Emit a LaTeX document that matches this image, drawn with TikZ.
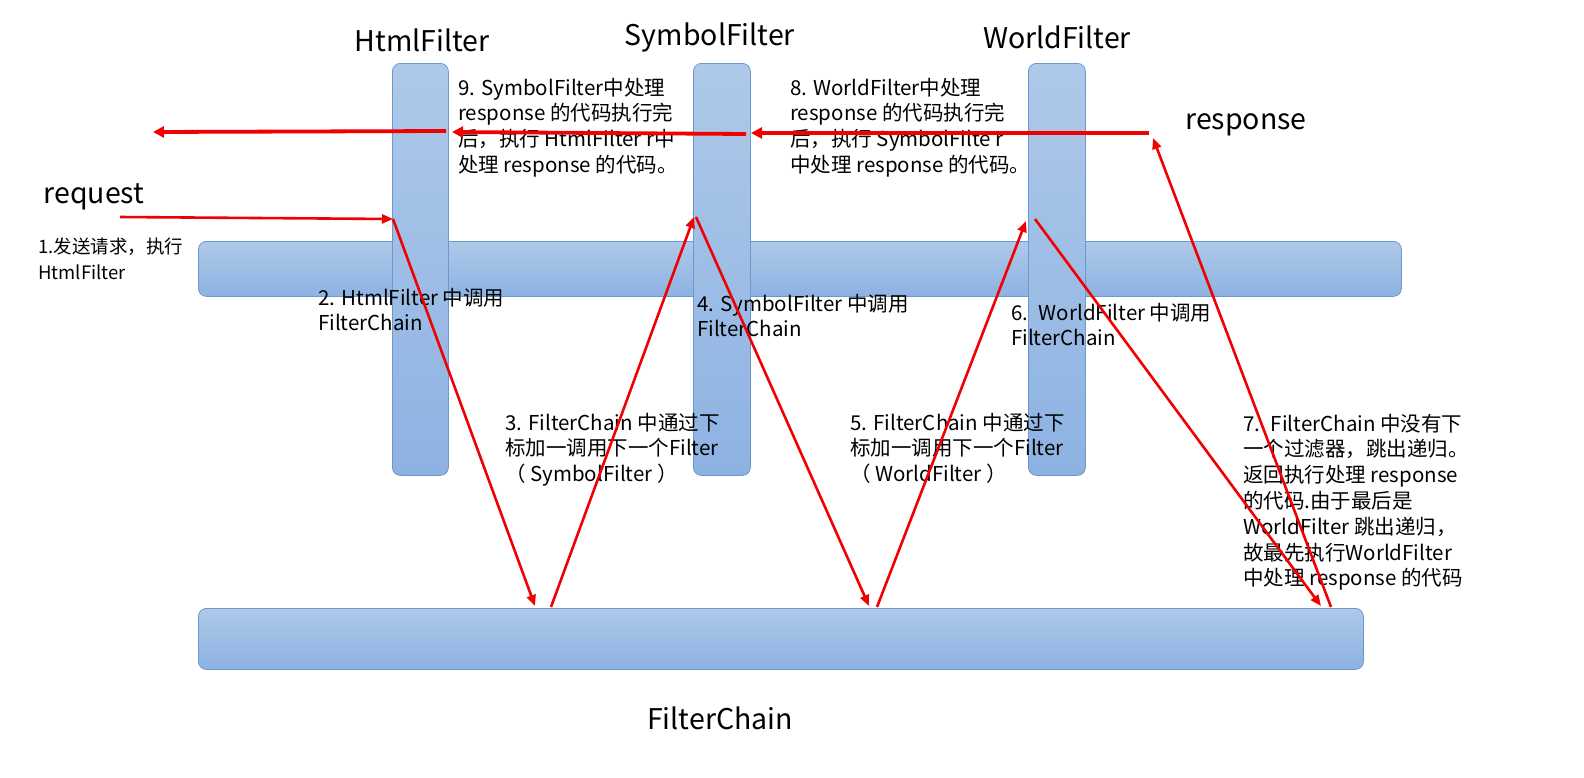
\documentclass[tikz,border=0pt]{standalone}
\usepackage{fontspec}
\setmainfont{Noto Sans CJK SC}
\usetikzlibrary{arrows.meta}
\definecolor{barTop}{HTML}{AEC9E9}
\definecolor{barBot}{HTML}{8DB2E2}
\definecolor{barEdge}{HTML}{6D98CF}
\definecolor{arr}{HTML}{F00000}
\tikzset{
  bar/.style={draw=barEdge, line width=0.8pt, top color=barTop, bottom color=barBot, rounded corners=8pt, inner sep=0pt, anchor=north west},
  title/.style={font=\fontsize{28.5}{34}\selectfont, inner sep=0pt},
  note/.style={font=\fontsize{20.5}{25.8}\selectfont, align=left, anchor=base west, inner sep=0pt},
  smallnote/.style={note, font=\fontsize{18.5}{26.5}\selectfont},
  flow/.style={draw=arr, line width=2.6pt, -{Triangle[length=11pt,width=9pt]}},
  back/.style={draw=arr, line width=3.8pt, -{Triangle[length=11pt,width=11pt]}}
}
\begin{document}
\begin{tikzpicture}[x=1pt,y=-1pt]
\useasboundingbox (0,0) rectangle (1584,777);
% bars
\node[bar, minimum width=1203pt, minimum height=55pt] (mid) at (198,241) {};
\node[bar, minimum width=56pt, minimum height=412pt] (hf) at (392,63) {};
\node[bar, minimum width=57pt, minimum height=412pt] (sf) at (693,63) {};
\node[bar, minimum width=57pt, minimum height=412pt] (wf) at (1028,63) {};
\node[bar, minimum width=1165pt, minimum height=61pt] (fc) at (198,608) {};
% titles
\node[title] (thf) at (422,40) {HtmlFilter};
\node[title] (tsf) at (710,37) {SymbolFilter};
\node[title] (twf) at (1057,37) {WorldFilter};
\node[title] (tresp) at (1246,125) {response};
\node[title] (treq) at (94,197) {request};
\node[title] (tfc) at (720,718) {FilterChain};
% notes (anchored at the baseline of their last line)
\node[note] (n9) at (458,172.4) {9. SymbolFilter中处理\\response 的代码执行完\\后，执行 HtmlFilter r中\\处理 response 的代码。};
\node[note] (n8) at (790,172.4) {8. WorldFilter中处理\\response 的代码执行完\\后，执行 SymbolFilte r\\中处理 response 的代码。};
\node[smallnote] (n1) at (38,279.5) {1.发送请求，执行\\HtmlFilter};
\node[note] (n2) at (318,330.8) {2. HtmlFilter 中调用\\FilterChain};
\node[note] (n4) at (697,336.8) {4. SymbolFilter 中调用\\FilterChain};
\node[note] (n6) at (1011,345.8) {6. \ WorldFilter 中调用\\FilterChain};
\node[note] (n3) at (505,481.6) {3. FilterChain 中通过下\\标加一调用下一个Filter\\（ SymbolFilter ）};
\node[note] (n5) at (850,481.6) {5. FilterChain 中通过下\\标加一调用下一个Filter\\（ WorldFilter ）};
\node[note] (n7) at (1243,585.8) {7. \ FilterChain 中没有下\\一个过滤器，跳出递归。\\返回执行处理 response\\的代码.由于最后是\\WorldFilter 跳出递归，\\故最先执行WorldFilter\\中处理 response 的代码};
% arrow end points
\coordinate (rq0) at (120,217);
\coordinate (hfin) at (393,219);
\coordinate (fc1) at (535,606);
\coordinate (fc2) at (551,607);
\coordinate (sfin) at (694,217);
\coordinate (sfout) at (696,217);
\coordinate (fc3) at (869,606);
\coordinate (fc4) at (877,607);
\coordinate (wfin) at (1026,221);
\coordinate (wfout) at (1035,219);
\coordinate (fc5) at (1321,606);
\coordinate (fc6) at (1331,607);
\coordinate (resp0) at (1153,138);
\coordinate (resp1) at (1149,133);
\coordinate (sfback) at (751,133);
\coordinate (sfback2) at (746,134);
\coordinate (hfback) at (452,132);
\coordinate (hfback2) at (446,131);
\coordinate (outend) at (153,132);
% connectors
\draw[flow] (rq0) -- (hfin);
\draw[flow] (hfin) -- (fc1);
\draw[flow] (fc2) -- (sfin);
\draw[flow] (sfout) -- (fc3);
\draw[flow] (fc4) -- (wfin);
\draw[flow] (wfout) -- (fc5);
\draw[flow] (fc6) -- (resp0);
\draw[back] (resp1) -- (sfback);
\draw[back] (sfback2) -- (hfback);
\draw[back] (hfback2) -- (outend);
\end{tikzpicture}
\end{document}
